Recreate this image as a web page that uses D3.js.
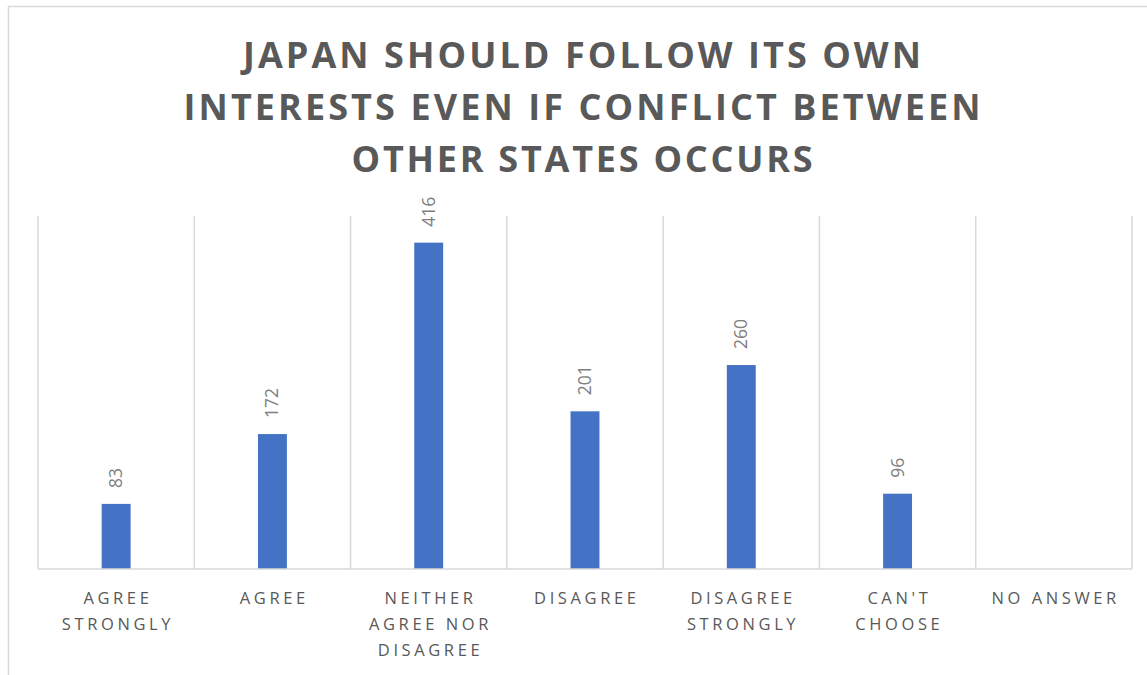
<!DOCTYPE html>
<html>
<head>
<meta charset="utf-8">
<script src="https://cdn.jsdelivr.net/npm/d3@7"></script>
<style>
  html, body { margin: 0; padding: 0; background: #ffffff; overflow: hidden; }
  svg { display: block; }
</style>
</head>
<body>
<svg id="chart" width="1147" height="675"></svg>
<script>
// Survey responses
const titleLines = [
  "JAPAN SHOULD FOLLOW ITS OWN",
  "INTERESTS EVEN IF CONFLICT BETWEEN",
  "OTHER STATES OCCURS"
];
const categories = [
  "Agree strongly",
  "Agree",
  "Neither agree nor disagree",
  "Disagree",
  "Disagree strongly",
  "Can't choose",
  "No answer"
];
const counts = [83, 172, 416, 201, 260, 96, null];
const yDomain = [0, 450];

const svg = d3.select("#chart");
const plot = { left: 38, right: 1132, top: 216, bottom: 569 };

// chart frame
svg.append("rect")
  .attr("x", 8.5).attr("y", 6.5)
  .attr("width", 1160).attr("height", 700)
  .attr("fill", "#ffffff")
  .attr("stroke", "#d9d9d9").attr("stroke-width", 1.5);

// title, each line spaced out to its line width
const titleG = svg.append("g");
const titleWidths = [678, 797, 461];
titleLines.forEach((t, i) => {
  const txt = titleG.append("text")
    .attr("x", 582)
    .attr("y", 68 + i * 52)
    .attr("text-anchor", "middle")
    .attr("font-family", "'Open Sans', sans-serif")
    .attr("font-weight", 700)
    .attr("font-size", 36)
    .attr("fill", "#595959")
    .text(t);
  const w0 = txt.node().getComputedTextLength();
  const ls = (titleWidths[i] - w0) / (t.length - 1);
  txt.attr("letter-spacing", ls.toFixed(2))
     .attr("x", 582 + ls / 2);
});

const x = d3.scaleBand()
  .domain(categories)
  .range([plot.left, plot.right])
  .paddingInner(0)
  .paddingOuter(0);

const y = d3.scaleLinear()
  .domain(yDomain)
  .range([plot.bottom, plot.top]);

// vertical category separators
const edges = categories.map(c => x(c)).concat([x(categories[categories.length - 1]) + x.bandwidth()]);
svg.append("g")
  .selectAll("line")
  .data(edges)
  .join("line")
  .attr("x1", d => d).attr("x2", d => d)
  .attr("y1", plot.top).attr("y2", plot.bottom)
  .attr("stroke", "#d9d9d9").attr("stroke-width", 1.5);

// bars
const barW = x.bandwidth() * 0.185;
const data = categories.map((c, i) => ({ c, v: counts[i] })).filter(d => d.v != null);
svg.append("g")
  .selectAll("rect")
  .data(data)
  .join("rect")
  .attr("x", d => x(d.c) + x.bandwidth() / 2 - barW / 2)
  .attr("y", d => y(d.v))
  .attr("width", barW)
  .attr("height", d => y(0) - y(d.v))
  .attr("fill", "#4472c4");

// baseline
svg.append("line")
  .attr("x1", plot.left).attr("x2", plot.right)
  .attr("y1", y(0)).attr("y2", y(0))
  .attr("stroke", "#d9d9d9").attr("stroke-width", 1.5);

// value labels, rotated
svg.append("g")
  .selectAll("text")
  .data(data)
  .join("text")
  .attr("transform", d => `translate(${x(d.c) + x.bandwidth() / 2 + 6},${y(d.v) - 16}) rotate(-90)`)
  .attr("font-family", "'Open Sans', sans-serif")
  .attr("font-size", 17.5)
  .attr("fill", "#808080")
  .text(d => d.v);

// category labels, word-wrapped to the band width
const maxW = 150;
const spacing = 3.6;
const catG = svg.append("g");
categories.forEach(c => {
  const words = c.toUpperCase().split(" ");
  const t = catG.append("text")
    .attr("text-anchor", "middle")
    .attr("font-family", "'Open Sans', sans-serif")
    .attr("font-size", 16.5)
    .attr("letter-spacing", spacing)
    .attr("fill", "#595959");
  const cx = x(c) + x.bandwidth() / 2 + spacing / 2;
  const lines = [];
  let cur = [];
  const probe = t.append("tspan");
  words.forEach(w => {
    const trial = cur.concat([w]).join(" ");
    probe.text(trial);
    const len = probe.node().getComputedTextLength();
    if (len > maxW && cur.length) {
      lines.push(cur.join(" "));
      cur = [w];
    } else {
      cur.push(w);
    }
  });
  lines.push(cur.join(" "));
  probe.remove();
  lines.forEach((ln, j) => {
    t.append("tspan")
      .attr("x", cx)
      .attr("y", 604 + j * 26)
      .text(ln);
  });
});
</script>
</body>
</html>
